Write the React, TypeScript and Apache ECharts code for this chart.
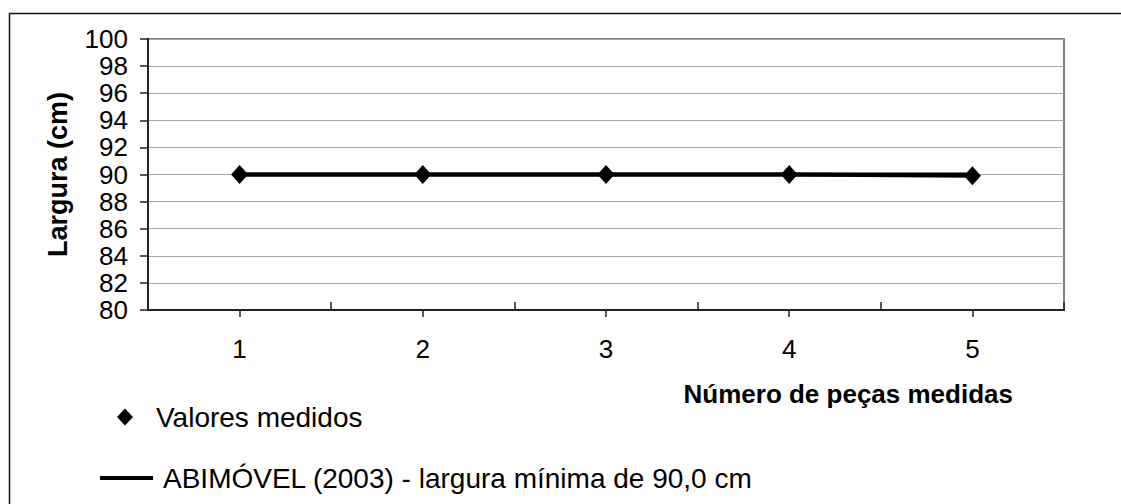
import React, { useEffect, useRef } from "react";
import * as echarts from "echarts";

const categories = ["1", "2", "3", "4", "5"];
const valoresMedidos = [90, 90, 90, 90, 89.9];
const abimovel = [90, 90, 90, 90, 90];
const yMin = 80;
const yMax = 100;
const yStep = 2;
const nameMedidos = "Valores medidos";
const nameAbimovel = "ABIMÓVEL (2003) - largura mínima de 90,0 cm";
const xTitle = "Número de peças medidas";
const yTitle = "Largura (cm)";

const FONT = "'Liberation Sans', Arial, sans-serif";

export default function App() {
  const ref = useRef<HTMLDivElement>(null);
  useEffect(() => {
    if (!ref.current) return;
    const chart = echarts.init(ref.current, null, { renderer: "svg" });
    chart.setOption({
      animation: false,
      backgroundColor: "#ffffff",
      textStyle: { fontFamily: FONT },
      graphic: [
        {
          type: "rect",
          shape: { x: 9.5, y: 13.5, width: 1300, height: 700 },
          style: { fill: "none", stroke: "#111", lineWidth: 1.5 },
          silent: true,
        },
      ],
      grid: {
        left: 148,
        top: 39,
        width: 916,
        height: 271,
        show: true,
        borderColor: "#808080",
        borderWidth: 2,
        backgroundColor: "#ffffff",
      },
      legend: [
        {
          data: [{ name: nameMedidos, icon: "diamond" }],
          left: 112,
          top: 398,
          itemWidth: 16,
          itemHeight: 17,
          selectedMode: false,
          formatter: (n: string) => `{g|}${n}`,
          textStyle: {
            fontFamily: FONT,
            fontSize: 28,
            color: "#000",
            rich: { g: { width: 18 } },
          },
        },
        {
          data: [{ name: nameAbimovel, icon: "rect" }],
          left: 95,
          top: 459,
          itemWidth: 53,
          itemHeight: 4,
          selectedMode: false,
          formatter: (n: string) => `{g|}${n}`,
          textStyle: {
            fontFamily: FONT,
            fontSize: 28,
            color: "#000",
            rich: { g: { width: 5 } },
          },
        },
      ],
      xAxis: [
        {
          type: "category",
          data: categories,
          position: "bottom",
          boundaryGap: true,
          axisLine: { show: true, lineStyle: { color: "#222", width: 2 } },
          axisTick: {
            show: true,
            inside: true,
            length: 8,
            alignWithLabel: false,
            lineStyle: { color: "#222", width: 1.5 },
          },
          axisLabel: {
            show: true,
            fontFamily: FONT,
            fontSize: 26,
            color: "#000",
            margin: 26,
          },
          splitLine: { show: false },
          name: xTitle,
          nameLocation: "end",
          nameGap: -51,
          nameTextStyle: {
            fontFamily: FONT,
            fontSize: 26,
            fontWeight: "bold",
            color: "#000",
            align: "right",
            verticalAlign: "top",
            padding: [71, 0, 0, 0],
          },
        },
        {
          type: "category",
          data: categories,
          position: "bottom",
          boundaryGap: true,
          axisLine: { show: false },
          axisTick: {
            show: true,
            inside: false,
            length: 7,
            alignWithLabel: true,
            lineStyle: { color: "#222", width: 1.5 },
          },
          axisLabel: { show: false },
          splitLine: { show: false },
        },
      ],
      yAxis: {
        type: "value",
        min: yMin,
        max: yMax,
        interval: yStep,
        axisLine: { show: true, lineStyle: { color: "#222", width: 2 } },
        axisTick: { show: true, length: 8, lineStyle: { color: "#222", width: 1.5 } },
        axisLabel: {
          fontFamily: FONT,
          fontSize: 26,
          color: "#000",
          margin: 20,
        },
        splitLine: { show: true, lineStyle: { color: "#a8a8a8", width: 1 } },
        name: yTitle,
        nameLocation: "middle",
        nameGap: 77,
        nameTextStyle: {
          fontFamily: FONT,
          fontSize: 27,
          fontWeight: "bold",
          color: "#000",
        },
      },
      series: [
        {
          name: nameAbimovel,
          type: "line",
          xAxisIndex: 0,
          data: abimovel,
          showSymbol: false,
          symbol: "none",
          lineStyle: { color: "#000", width: 4 },
          itemStyle: { color: "#000" },
          z: 2,
        },
        {
          name: nameMedidos,
          type: "line",
          xAxisIndex: 0,
          data: valoresMedidos,
          symbol: "diamond",
          symbolSize: [17, 19],
          lineStyle: { color: "#000", width: 4 },
          itemStyle: { color: "#000" },
          z: 3,
        },
      ],
    });
    return () => chart.dispose();
  }, []);
  return (
    <div
      ref={ref}
      style={{ position: "fixed", left: 0, top: 0, width: 1121, height: 504 }}
    />
  );
}
